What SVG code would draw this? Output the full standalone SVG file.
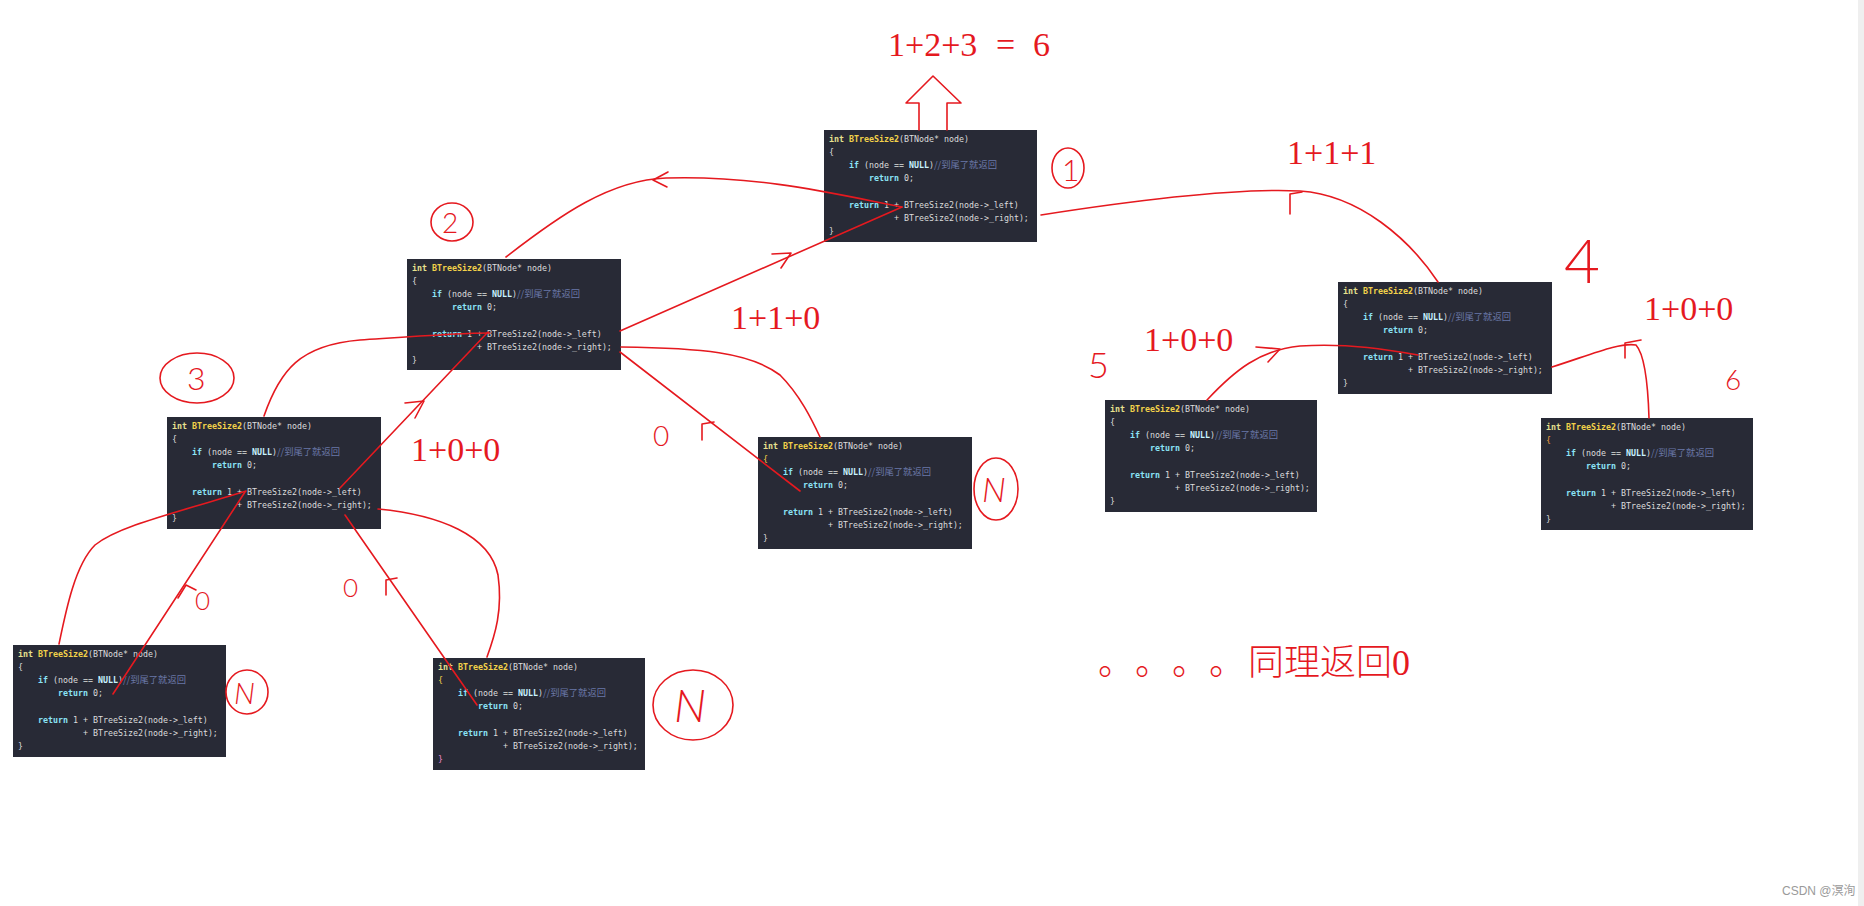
<svg xmlns="http://www.w3.org/2000/svg" width="1864" height="906" viewBox="0 0 1864 906">
<style>
.box{fill:#282a36}
.code{font-family:"DejaVu Sans Mono",monospace;font-size:8.3px;fill:#dcdcdc}
.ty{fill:#e6e28f;font-weight:bold}
.fn{fill:#f2d24a;font-weight:bold}
.kw{fill:#8be4f5;font-weight:bold}
.nl{fill:#c8f2ff;font-weight:bold}
.cm{fill:#6a78a8;font-family:"Noto Sans CJK SC",sans-serif;font-size:9.3px}
.ink{fill:none;stroke:#e5191f;stroke-width:1.6;stroke-linecap:round;stroke-linejoin:round}
.hw{font-family:"Liberation Serif",serif;font-size:34px;fill:#e5191f}
.hand{font-family:"Lato","Open Sans","Liberation Sans",sans-serif;font-weight:300;fill:#e5191f}
</style>
<rect width="1864" height="906" fill="#ffffff"/>
<rect x="1858" y="0" width="6" height="906" fill="#efefef"/>

<g id="node1" transform="translate(824,130)">
<rect class="box" width="213" height="112"/>
<text class="code" x="5" y="11.5"><tspan class="ty">int</tspan> <tspan class="fn">BTreeSize2</tspan>(BTNode* node)</text>
<text class="code" x="5" y="25">{</text>
<text class="code" x="25" y="38"><tspan class="kw">if</tspan> (node == <tspan class="nl">NULL</tspan>)<tspan class="cm">//到尾了就返回</tspan></text>
<text class="code" x="45" y="51"><tspan class="kw">return</tspan> 0;</text>
<text class="code" x="25" y="78"><tspan class="kw">return</tspan> 1 + BTreeSize2(node-&gt;_left)</text>
<text class="code" x="70" y="91">+ BTreeSize2(node-&gt;_right);</text>
<text class="code" x="5" y="104">}</text>
</g>
<g id="node2" transform="translate(407,259)">
<rect class="box" width="214" height="111"/>
<text class="code" x="5" y="11.5"><tspan class="ty">int</tspan> <tspan class="fn">BTreeSize2</tspan>(BTNode* node)</text>
<text class="code" x="5" y="25">{</text>
<text class="code" x="25" y="38"><tspan class="kw">if</tspan> (node == <tspan class="nl">NULL</tspan>)<tspan class="cm">//到尾了就返回</tspan></text>
<text class="code" x="45" y="51"><tspan class="kw">return</tspan> 0;</text>
<text class="code" x="25" y="78"><tspan class="kw">return</tspan> 1 + BTreeSize2(node-&gt;_left)</text>
<text class="code" x="70" y="91">+ BTreeSize2(node-&gt;_right);</text>
<text class="code" x="5" y="104">}</text>
</g>
<g id="node3" transform="translate(167,417)">
<rect class="box" width="214" height="112"/>
<text class="code" x="5" y="11.5"><tspan class="ty">int</tspan> <tspan class="fn">BTreeSize2</tspan>(BTNode* node)</text>
<text class="code" x="5" y="25">{</text>
<text class="code" x="25" y="38"><tspan class="kw">if</tspan> (node == <tspan class="nl">NULL</tspan>)<tspan class="cm">//到尾了就返回</tspan></text>
<text class="code" x="45" y="51"><tspan class="kw">return</tspan> 0;</text>
<text class="code" x="25" y="78"><tspan class="kw">return</tspan> 1 + BTreeSize2(node-&gt;_left)</text>
<text class="code" x="70" y="91">+ BTreeSize2(node-&gt;_right);</text>
<text class="code" x="5" y="104">}</text>
</g>
<g id="node4" transform="translate(13,645)">
<rect class="box" width="213" height="112"/>
<text class="code" x="5" y="11.5"><tspan class="ty">int</tspan> <tspan class="fn">BTreeSize2</tspan>(BTNode* node)</text>
<text class="code" x="5" y="25">{</text>
<text class="code" x="25" y="38"><tspan class="kw">if</tspan> (node == <tspan class="nl">NULL</tspan>)<tspan class="cm">//到尾了就返回</tspan></text>
<text class="code" x="45" y="51"><tspan class="kw">return</tspan> 0;</text>
<text class="code" x="25" y="78"><tspan class="kw">return</tspan> 1 + BTreeSize2(node-&gt;_left)</text>
<text class="code" x="70" y="91">+ BTreeSize2(node-&gt;_right);</text>
<text class="code" x="5" y="104">}</text>
</g>
<g id="node5" transform="translate(433,658)">
<rect class="box" width="212" height="112"/>
<text class="code" x="5" y="11.5"><tspan class="ty">int</tspan> <tspan class="fn">BTreeSize2</tspan>(BTNode* node)</text>
<text class="code" x="5" y="25"><tspan fill="#f2d24a">{</tspan></text>
<text class="code" x="25" y="38"><tspan class="kw">if</tspan> (node == <tspan class="nl">NULL</tspan>)<tspan class="cm">//到尾了就返回</tspan></text>
<text class="code" x="45" y="51"><tspan class="kw">return</tspan> 0;</text>
<text class="code" x="25" y="78"><tspan class="kw">return</tspan> 1 + BTreeSize2(node-&gt;_left)</text>
<text class="code" x="70" y="91">+ BTreeSize2(node-&gt;_right);</text>
<text class="code" x="5" y="104"><tspan fill="#f08ad0">}</tspan></text>
</g>
<g id="node6" transform="translate(758,437)">
<rect class="box" width="214" height="112"/>
<text class="code" x="5" y="11.5"><tspan class="ty">int</tspan> <tspan class="fn">BTreeSize2</tspan>(BTNode* node)</text>
<text class="code" x="5" y="25"><tspan fill="#f2d24a">{</tspan></text>
<text class="code" x="25" y="38"><tspan class="kw">if</tspan> (node == <tspan class="nl">NULL</tspan>)<tspan class="cm">//到尾了就返回</tspan></text>
<text class="code" x="45" y="51"><tspan class="kw">return</tspan> 0;</text>
<text class="code" x="25" y="78"><tspan class="kw">return</tspan> 1 + BTreeSize2(node-&gt;_left)</text>
<text class="code" x="70" y="91">+ BTreeSize2(node-&gt;_right);</text>
<text class="code" x="5" y="104">}</text>
</g>
<g id="node7" transform="translate(1105,400)">
<rect class="box" width="212" height="112"/>
<text class="code" x="5" y="11.5"><tspan class="ty">int</tspan> <tspan class="fn">BTreeSize2</tspan>(BTNode* node)</text>
<text class="code" x="5" y="25">{</text>
<text class="code" x="25" y="38"><tspan class="kw">if</tspan> (node == <tspan class="nl">NULL</tspan>)<tspan class="cm">//到尾了就返回</tspan></text>
<text class="code" x="45" y="51"><tspan class="kw">return</tspan> 0;</text>
<text class="code" x="25" y="78"><tspan class="kw">return</tspan> 1 + BTreeSize2(node-&gt;_left)</text>
<text class="code" x="70" y="91">+ BTreeSize2(node-&gt;_right);</text>
<text class="code" x="5" y="104">}</text>
</g>
<g id="node8" transform="translate(1338,282)">
<rect class="box" width="214" height="112"/>
<text class="code" x="5" y="11.5"><tspan class="ty">int</tspan> <tspan class="fn">BTreeSize2</tspan>(BTNode* node)</text>
<text class="code" x="5" y="25">{</text>
<text class="code" x="25" y="38"><tspan class="kw">if</tspan> (node == <tspan class="nl">NULL</tspan>)<tspan class="cm">//到尾了就返回</tspan></text>
<text class="code" x="45" y="51"><tspan class="kw">return</tspan> 0;</text>
<text class="code" x="25" y="78"><tspan class="kw">return</tspan> 1 + BTreeSize2(node-&gt;_left)</text>
<text class="code" x="70" y="91">+ BTreeSize2(node-&gt;_right);</text>
<text class="code" x="5" y="104">}</text>
</g>
<g id="node9" transform="translate(1541,418)">
<rect class="box" width="212" height="112"/>
<text class="code" x="5" y="11.5"><tspan class="ty">int</tspan> <tspan class="fn">BTreeSize2</tspan>(BTNode* node)</text>
<text class="code" x="5" y="25"><tspan fill="#f0a040">{</tspan></text>
<text class="code" x="25" y="38"><tspan class="kw">if</tspan> (node == <tspan class="nl">NULL</tspan>)<tspan class="cm">//到尾了就返回</tspan></text>
<text class="code" x="45" y="51"><tspan class="kw">return</tspan> 0;</text>
<text class="code" x="25" y="78"><tspan class="kw">return</tspan> 1 + BTreeSize2(node-&gt;_left)</text>
<text class="code" x="70" y="91">+ BTreeSize2(node-&gt;_right);</text>
<text class="code" x="5" y="104">}</text>
</g>

<g id="connectors" class="ink">
<path d="M506,257 C560,215 610,180 666,178 C760,175 840,195 902,207"/>
<path d="M620,331 L902,207"/>
<path d="M488,332 L340,488"/>
<path d="M264,416 C280,370 300,345 360,340 C420,336 460,333 490,333"/>
<path d="M246,491 C180,512 120,525 95,545 C75,565 66,610 59,644"/>
<path d="M245,492 L113,694"/>
<path d="M345,515 L477,705"/>
<path d="M378,509 C440,515 490,535 498,575 C503,610 495,635 487,657"/>
<path d="M620,352 L800,491"/>
<path d="M621,347 C700,348 750,352 780,375 C800,395 812,420 820,437"/>
<path d="M1041,215 C1150,198 1240,188 1300,191 C1360,195 1410,240 1438,282"/>
<path d="M1207,400 C1235,370 1260,350 1300,346 C1350,343 1390,350 1418,355"/>
<path d="M1552,367 C1590,355 1620,342 1636,345 C1645,355 1648,385 1649,418"/>
<path d="M668,172 L653,180 L667,187"/>
<path d="M772,254 L791,253 L781,268"/>
<path d="M405,403 L424,401 L415,418"/>
<path d="M178,598 L186,585 L196,590"/>
<path d="M386,595 L386,580 L397,578"/>
<path d="M702,440 L702,424 L714,422"/>
<path d="M1290,214 L1290,194 L1302,192"/>
<path d="M1256,347 L1280,349 L1268,362"/>
<path d="M1625,358 L1625,343 L1641,340"/>
<path d="M919,130 L919,103 L906,103 L933,76 L961,103 L947,103 L947,130"/>
<ellipse cx="1068" cy="168" rx="16" ry="20"/>
<ellipse cx="452" cy="222" rx="21" ry="19"/>
<ellipse cx="197" cy="378" rx="37" ry="25"/>
<ellipse cx="996" cy="489" rx="22" ry="31"/>
<ellipse cx="247" cy="692" rx="21" ry="22"/>
<ellipse cx="693" cy="705" rx="40" ry="35"/>
</g>

<g id="labels">
<text class="hw" x="888" y="56">1+2+3</text>
<text class="hw" x="996" y="56">=</text>
<text class="hw" x="1033" y="56">6</text>
<text class="hw" x="1287" y="164">1+1+1</text>
<text class="hw" x="731" y="329">1+1+0</text>
<text class="hw" x="411" y="461">1+0+0</text>
<text class="hw" x="1144" y="351">1+0+0</text>
<text class="hw" x="1644" y="320">1+0+0</text>
<text class="hand" x="1062" y="181" font-size="30">1</text>
<text class="hand" x="442" y="233" font-size="28">2</text>
<text class="hand" x="187" y="390" font-size="32">3</text>
<text class="hand" x="1564" y="283" font-size="62">4</text>
<text class="hand" x="1088" y="378" font-size="36">5</text>
<text class="hand" x="1725" y="390" font-size="28">6</text>
<text class="hand" x="982" y="502" font-size="34" font-style="italic">N</text>
<text class="hand" x="234" y="704" font-size="30" font-style="italic">N</text>
<text class="hand" x="674" y="722" font-size="46" font-style="italic">N</text>
<text class="hand" x="653" y="446" font-size="28">0</text>
<text class="hand" x="343" y="597" font-size="26">0</text>
<text class="hand" x="195" y="610" font-size="26">0</text>
<text y="675" font-family="Noto Sans CJK SC, sans-serif" font-weight="300" font-size="36" fill="#e5191f"><tspan x="1098">。</tspan><tspan x="1135">。</tspan><tspan x="1172">。</tspan><tspan x="1209">。</tspan><tspan x="1248">同理返回</tspan><tspan font-family="Liberation Serif, serif" font-weight="normal">0</tspan></text>
<text x="1782" y="895" font-family="Liberation Sans, Noto Sans CJK SC, sans-serif" font-size="12" fill="#9a9a9a">CSDN @溟洵</text>
</g>
</svg>
